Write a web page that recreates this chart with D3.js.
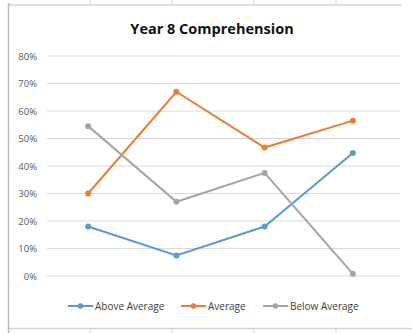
<!DOCTYPE html>
<html lang="en">
<head>
  <meta charset="UTF-8">
  <title>Year 8 Comprehension</title>
  <script src="https://d3js.org/d3.v7.min.js"></script>
  <style>
    body {
      margin: 0;
      background: white;
      font-family: "Open Sans", "Liberation Sans", sans-serif;
    }
    svg {
      display: block;
    }
  </style>
</head>
<body>
<svg width="412" height="333"></svg>

<script>
  const categories = ["T1", "T2", "T3", "T4"];
  const seriesNames = ["Above Average", "Average", "Below Average"];
  const aboveAverage = [0.18, 0.075, 0.18, 0.447];
  const average = [0.30, 0.67, 0.467, 0.565];
  const belowAverage = [0.545, 0.27, 0.375, 0.008];
  const yTicks = [0, 0.1, 0.2, 0.3, 0.4, 0.5, 0.6, 0.7, 0.8];

  const colors = ["#5B9BD5", "#ED7D31", "#A5A5A5"];
  const series = [aboveAverage, average, belowAverage];

  const svg = d3.select("svg");

  // spreadsheet cell borders peeking round the chart
  const cellX = [90, 172, 254, 336];
  svg.append("line").attr("x1", 8).attr("x2", 402).attr("y1", 5).attr("y2", 5)
    .attr("stroke", "#d4d4d4").attr("stroke-width", 1.5);
  svg.append("line").attr("x1", 8).attr("x2", 412).attr("y1", 328.5).attr("y2", 328.5)
    .attr("stroke", "#d4d4d4").attr("stroke-width", 1.5);
  cellX.forEach(x => {
    svg.append("line").attr("x1", x).attr("x2", x).attr("y1", 0).attr("y2", 5)
      .attr("stroke", "#d4d4d4");
    svg.append("line").attr("x1", x).attr("x2", x).attr("y1", 328).attr("y2", 333)
      .attr("stroke", "#d4d4d4");
  });
  svg.append("line").attr("x1", 8.5).attr("x2", 8.5).attr("y1", 3).attr("y2", 333)
    .attr("stroke", "#b8b8b8").attr("stroke-width", 1.5);

  const x = d3.scaleBand()
    .domain(categories)
    .range([44, 397]);

  const y = d3.scaleLinear()
    .domain([0, 0.8])
    .range([276, 56]);

  // gridlines
  svg.append("g")
    .selectAll("line")
    .data(yTicks)
    .join("line")
    .attr("x1", 47)
    .attr("x2", 400)
    .attr("y1", d => y(d))
    .attr("y2", d => y(d))
    .attr("stroke", "#d9d9d9")
    .attr("stroke-width", 1.2);

  // y axis labels
  svg.append("g")
    .selectAll("text")
    .data(yTicks)
    .join("text")
    .attr("x", 37)
    .attr("y", d => y(d) + 3.5)
    .attr("text-anchor", "end")
    .attr("font-size", 9.5)
    .attr("fill", "#595959")
    .text(d => d3.format(".0%")(d));

  // title
  svg.append("text")
    .attr("x", 212)
    .attr("y", 34)
    .attr("text-anchor", "middle")
    .attr("font-size", 14.5)
    .attr("font-weight", "bold")
    .attr("fill", "#111")
    .text("Year 8 Comprehension");

  const line = d3.line()
    .x((d, i) => x(categories[i]) + x.bandwidth() / 2)
    .y(d => y(d));

  series.forEach((values, s) => {
    svg.append("path")
      .datum(values)
      .attr("fill", "none")
      .attr("stroke", colors[s])
      .attr("stroke-width", 2)
      .attr("d", line);

    svg.append("g")
      .selectAll("circle")
      .data(values)
      .join("circle")
      .attr("cx", (d, i) => x(categories[i]) + x.bandwidth() / 2)
      .attr("cy", d => y(d))
      .attr("r", 3)
      .attr("fill", colors[s]);
  });

  // legend
  const legendX = [68, 181, 263];
  const legend = svg.append("g");
  seriesNames.forEach((name, s) => {
    const gx = legendX[s];
    legend.append("line")
      .attr("x1", gx).attr("x2", gx + 25)
      .attr("y1", 306).attr("y2", 306)
      .attr("stroke", colors[s]).attr("stroke-width", 2);
    legend.append("circle")
      .attr("cx", gx + 12.5).attr("cy", 306).attr("r", 2.8)
      .attr("fill", colors[s]);
    legend.append("text")
      .attr("x", gx + 27)
      .attr("y", 310)
      .attr("font-size", 10)
      .attr("fill", "#404040")
      .text(name);
  });
</script>

</body>
</html>
